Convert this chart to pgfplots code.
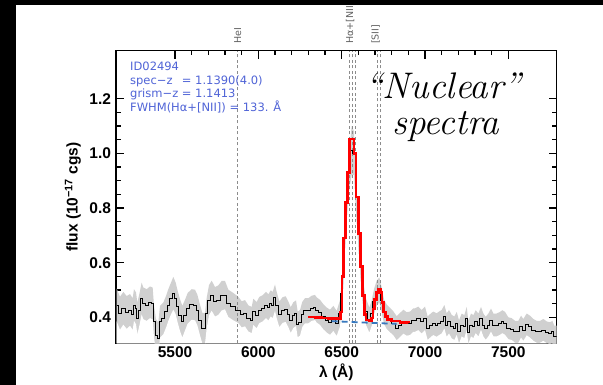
\documentclass[border=0pt]{standalone}
\usepackage{fontspec}
\usepackage{pgfplots}
\pgfplotsset{compat=1.18}
\usepackage{pgfplotstable}
\newfontfamily\sans{Liberation Sans}
\newfontfamily\dv{DejaVu Sans}
\definecolor{txtblue}{RGB}{80,100,215}
\definecolor{contblue}{RGB}{55,120,190}
\definecolor{bandgray}{RGB}{208,208,208}
\definecolor{linegray}{RGB}{140,140,140}

\pgfplotstableread{
lam f e
5150 0.445 0.060
5170 0.415 0.060
5190 0.433 0.060
5210 0.418 0.060
5230 0.427 0.058
5246 0.412 0.058
5254 0.445 0.058
5266 0.433 0.058
5274 0.396 0.058
5286 0.427 0.058
5300 0.469 0.058
5310 0.451 0.058
5330 0.445 0.058
5350 0.455 0.058
5366 0.451 0.058
5374 0.384 0.058
5386 0.335 0.058
5400 0.323 0.058
5410 0.384 0.058
5430 0.396 0.058
5446 0.420 0.058
5460 0.445 0.058
5476 0.469 0.058
5490 0.488 0.060
5504 0.469 0.058
5516 0.439 0.058
5530 0.408 0.058
5544 0.384 0.058
5560 0.408 0.056
5576 0.433 0.056
5600 0.447 0.056
5620 0.445 0.056
5634 0.427 0.056
5650 0.390 0.056
5664 0.360 0.056
5680 0.360 0.056
5690 0.415 0.056
5704 0.463 0.055
5720 0.479 0.055
5740 0.457 0.054
5760 0.463 0.054
5780 0.479 0.054
5800 0.481 0.052
5820 0.451 0.050
5850 0.439 0.050
5880 0.427 0.048
5900 0.411 0.048
5920 0.415 0.048
5940 0.396 0.048
5960 0.390 0.048
5970 0.420 0.048
5990 0.408 0.048
6006 0.427 0.048
6026 0.433 0.048
6046 0.445 0.048
6060 0.436 0.048
6074 0.451 0.048
6086 0.445 0.048
6100 0.472 0.048
6110 0.445 0.048
6126 0.411 0.047
6146 0.427 0.047
6164 0.430 0.047
6180 0.411 0.047
6194 0.390 0.047
6210 0.408 0.047
6226 0.415 0.047
6236 0.374 0.047
6250 0.380 0.047
6264 0.411 0.046
6280 0.424 0.046
6300 0.424 0.046
6320 0.433 0.046
6340 0.436 0.046
6350 0.427 0.046
6370 0.418 0.046
6390 0.402 0.046
6410 0.390 0.046
6430 0.382 0.046
6450 0.396 0.046
6470 0.378 0.046
6490 0.415 0.048
6500 0.488 0.050
6510 0.560 0.052
6520 0.694 0.056
6534 0.840 0.060
6546 0.938 0.070
6560 1.010 0.090
6574 1.000 0.080
6586 0.840 0.060
6600 0.707 0.056
6614 0.585 0.052
6630 0.475 0.050
6646 0.420 0.048
6666 0.390 0.046
6680 0.415 0.046
6694 0.457 0.046
6710 0.488 0.046
6726 0.500 0.046
6740 0.463 0.046
6754 0.420 0.045
6770 0.402 0.045
6790 0.390 0.045
6810 0.378 0.044
6830 0.360 0.044
6850 0.372 0.044
6870 0.384 0.044
6890 0.376 0.043
6910 0.378 0.043
6930 0.390 0.043
6940 0.390 0.043
6960 0.396 0.043
6980 0.384 0.043
7000 0.396 0.043
7016 0.360 0.043
7036 0.372 0.043
7050 0.378 0.043
7070 0.372 0.043
7084 0.378 0.043
7100 0.384 0.043
7116 0.402 0.043
7130 0.372 0.043
7144 0.384 0.043
7160 0.366 0.043
7176 0.360 0.043
7190 0.378 0.042
7204 0.347 0.042
7220 0.372 0.042
7236 0.366 0.042
7250 0.396 0.042
7260 0.345 0.042
7276 0.372 0.042
7290 0.366 0.042
7304 0.384 0.042
7320 0.372 0.042
7336 0.396 0.042
7350 0.372 0.042
7364 0.360 0.042
7380 0.372 0.042
7396 0.390 0.042
7410 0.372 0.042
7430 0.372 0.042
7450 0.378 0.042
7464 0.384 0.042
7480 0.378 0.042
7500 0.360 0.040
7520 0.357 0.040
7540 0.347 0.040
7560 0.347 0.040
7576 0.366 0.040
7590 0.354 0.040
7610 0.374 0.040
7630 0.366 0.040
7650 0.354 0.040
7670 0.347 0.040
7690 0.347 0.040
7710 0.354 0.040
7730 0.345 0.040
7750 0.342 0.040
7764 0.347 0.040
7776 0.329 0.040
7790 0.330 0.040
}\spec

\pgfplotstableread{
lam f
6300 0.401
6340 0.399
6380 0.397
6420 0.396
6460 0.395
6494 0.420
6502 0.550
6512 0.690
6522 0.820
6534 0.930
6546 1.053
6574 1.000
6586 0.840
6600 0.707
6614 0.585
6626 0.480
6636 0.410
6646 0.390
6666 0.387
6680 0.397
6688 0.430
6698 0.465
6710 0.490
6720 0.503
6732 0.490
6742 0.455
6752 0.420
6762 0.402
6774 0.392
6800 0.387
6850 0.382
6900 0.378
}\fit

\begin{document}
\begin{tikzpicture}
\fill[white] (0bp,0bp) rectangle (603bp,385bp);
\begin{axis}[
  at={(116bp,41.7bp)}, anchor=south west,
  width=440.7bp, height=292.6bp, scale only axis,
  xmin=5146, xmax=7790, ymin=0.305, ymax=1.3756,
  xtick={5500,6000,6500,7000,7500}, minor x tick num=4,
  ytick={0.4,0.6,0.8,1.0,1.2}, minor y tick num=3,
  tick align=inside,
  major tick length=8bp, minor tick length=4.5bp,
  axis line style={line width=1.3bp},
  every tick/.style={line width=1.1bp, black},
  clip mode=individual,
  tick label style={font=\sans\bfseries\fontsize{15.5bp}{18bp}\selectfont},
  xticklabel style={/pgf/number format/1000 sep={}, /pgf/number format/assume math mode=true},
  yticklabel style={/pgf/number format/fixed, /pgf/number format/fixed zerofill, /pgf/number format/precision=1, /pgf/number format/assume math mode=true, xshift=-1.5bp},
  label style={font=\sans\bfseries\fontsize{15.5bp}{18bp}\selectfont},
  xlabel={λ (Å)},
  ylabel={flux (10\textsuperscript{−17} cgs)},
  xlabel style={at={(axis description cs:0.5,-0.098)}, anchor=center},
  ylabel style={at={(axis description cs:-0.0976,0.5)}, anchor=center},
]
\addplot[fill=bandgray, draw=none] table[x=lam, y expr=\thisrow{f}+\thisrow{e}] {\spec} \closedcycle;
\addplot[fill=white, draw=none] table[x=lam, y expr=\thisrow{f}-\thisrow{e}] {\spec} \closedcycle;

\addplot[linegray, line width=0.5bp, dash pattern=on 3bp off 2.5bp] coordinates {(5876,0.305) (5876,1.3756)};
\addplot[linegray, line width=0.5bp, dash pattern=on 3bp off 2.5bp] coordinates {(6548,0.305) (6548,1.3756)};
\addplot[linegray, line width=0.5bp, dash pattern=on 3bp off 2.5bp] coordinates {(6563,0.305) (6563,1.3756)};
\addplot[linegray, line width=0.5bp, dash pattern=on 3bp off 2.5bp] coordinates {(6583,0.305) (6583,1.3756)};
\addplot[linegray, line width=0.5bp, dash pattern=on 3bp off 2.5bp] coordinates {(6716,0.305) (6716,1.3756)};
\addplot[linegray, line width=0.5bp, dash pattern=on 3bp off 2.5bp] coordinates {(6731,0.305) (6731,1.3756)};

\addplot[black, line width=0.8bp, const plot mark mid] table[x=lam, y=f] {\spec};
\addplot[contblue, line width=1.8bp, dash pattern=on 6bp off 4bp] coordinates {(6440,0.386) (6830,0.376)};
\addplot[red, line width=2.6bp, const plot mark left] table[x=lam, y=f] {\fit};

\node[rotate=90, anchor=west, inner sep=0, text=black!62, font=\dv\fontsize{9.5bp}{11bp}\selectfont] at (axis cs:5876,1.40) {HeI};
\node[rotate=90, anchor=west, inner sep=0, text=black!62, font=\dv\fontsize{9.5bp}{11bp}\selectfont] at (axis cs:6550,1.40) {Hα+[NII]};
\node[rotate=90, anchor=west, inner sep=0, text=black!62, font=\dv\fontsize{9.5bp}{11bp}\selectfont] at (axis cs:6703,1.40) {[SII]};
\end{axis}

\node[anchor=base west, inner sep=0, text=txtblue, font=\dv\fontsize{11.5bp}{13.1bp}\selectfont] at (130bp,314bp)
  {\begin{tabular}[t]{@{}l@{ }l@{}}
   \multicolumn{2}{@{}l@{}}{ID02494}\\
   spec−z & = 1.1390(4.0)\\
   grism−z & = 1.1413\\
   \multicolumn{2}{@{}l@{}}{FWHM(Hα+[NII]) = 133. Å}
   \end{tabular}};

\node[anchor=base west, inner sep=0, font=\fontsize{37bp}{40bp}\selectfont\itshape\addfontfeature{LetterSpace=8}] at (365bp,286.5bp) {“Nuclear”};
\node[anchor=base west, inner sep=0, font=\fontsize{37bp}{40bp}\selectfont\itshape\addfontfeature{LetterSpace=8}] at (392bp,250bp) {spectra};

\fill[black] (0bp,380bp) rectangle (603bp,385bp);
\fill[black] (0bp,0bp) rectangle (15.7bp,385bp);
\pgfresetboundingbox
\path[use as bounding box] (0bp,0bp) rectangle (603bp,385bp);
\end{tikzpicture}
\end{document}
